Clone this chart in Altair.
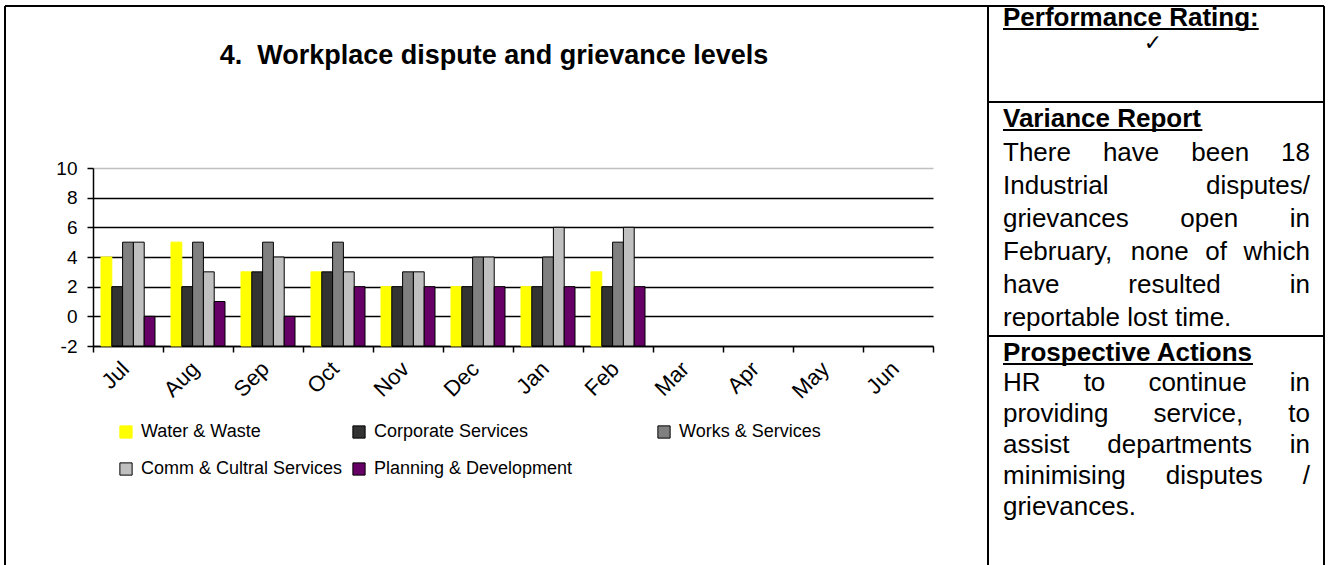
import altair as alt
import pandas as pd

# ---------------- data ----------------
months = ["Jul", "Aug", "Sep", "Oct", "Nov", "Dec", "Jan", "Feb", "Mar", "Apr", "May", "Jun"]
series = ["Water & Waste", "Corporate Services", "Works & Services",
          "Comm & Cultral Services", "Planning & Development"]
water = [4, 5, 3, 3, 2, 2, 2, 3]
corporate = [2, 2, 3, 3, 2, 2, 2, 2]
works = [5, 5, 5, 5, 3, 4, 4, 5]
comm = [5, 3, 4, 3, 3, 4, 6, 6]
planning = [0, 1, 0, 2, 2, 2, 2, 2]
values = [water, corporate, works, comm, planning]
y_ticks = [-2, 0, 2, 4, 6, 8, 10]

fills = ["#FFFF00", "#333333", "#808080", "#C0C0C0", "#660066"]
edges = ["#FFFF00", "#000000", "#000000", "#000000", "#000000"]

title_text = "4. \u00a0Workplace dispute and grievance levels"
rating_title = "Performance Rating:"
rating_mark = "\u2713"
variance_title = "Variance Report"
variance_lines = ["There have been 18", "Industrial disputes/", "grievances open in",
                  "February, none of which", "have resulted in", "reportable lost time."]
actions_title = "Prospective Actions"
actions_lines = ["HR to continue in", "providing service, to", "assist departments in",
                 "minimising disputes /", "grievances."]

FONT = "Liberation Sans"

# ---------------- layout helpers ----------------
W, H = 1330, 565
PX0, PX1 = 93, 933      # plot area x (absolute)
PY0, PY1 = 168, 346     # plot area y (absolute)

REG = {' ': 278, '&': 667, ',': 278, '.': 278, '/': 278, ':': 278, '1': 556, '8': 556,
       'A': 667, 'C': 722, 'D': 722, 'F': 611, 'H': 722, 'I': 278, 'P': 667, 'R': 722,
       'T': 611, 'V': 667, 'a': 556, 'b': 556, 'c': 500, 'd': 556, 'e': 556, 'f': 278,
       'g': 556, 'h': 556, 'i': 222, 'l': 222, 'm': 833, 'n': 556, 'o': 556, 'p': 556,
       'r': 333, 's': 500, 't': 278, 'u': 556, 'v': 500, 'w': 722, 'y': 500}
BOLD = {' ': 278, ':': 333, 'A': 722, 'P': 667, 'R': 722, 'V': 667, 'a': 556, 'c': 556,
        'e': 556, 'f': 333, 'g': 611, 'i': 278, 'm': 889, 'n': 611, 'o': 611, 'p': 611,
        'r': 389, 's': 556, 't': 333, 'v': 556}


def tw(s, size, bold=False):
    tab = BOLD if bold else REG
    return sum(tab.get(c, 556) for c in s) / 1000.0 * size


PL, PR = 1003, 1310
FS = 26


def justify(line, y, last=False):
    words = line.split(" ")
    if last or len(words) == 1:
        return [(PL, y, line)]
    ws = [tw(w, FS) for w in words]
    gap = (PR - PL - sum(ws)) / (len(words) - 1)
    out, x = [], PL
    for w, wd in zip(words, ws):
        out.append((x, y, w))
        x += wd + gap
    return out


words = []
for i, ln in enumerate(variance_lines):
    words += justify(ln, 161 + 33 * i, last=(i == len(variance_lines) - 1))
for i, ln in enumerate(actions_lines):
    words += justify(ln, 391 + 31 * i, last=(i == len(actions_lines) - 1))
words_df = pd.DataFrame([{"x": x - PX0, "y": y - PY0, "t": t} for x, y, t in words])

heads = [(PL, 26, rating_title), (PL, 127, variance_title), (PL, 361, actions_title)]
heads_df = pd.DataFrame([{"x": x - PX0, "y": y - PY0, "t": t} for x, y, t in heads])

lines = [
    (5, 6, 1324, 6), (5, 6, 5, 600), (1324, 6, 1324, 600), (988, 6, 988, 600),
    (988, 102, 1324, 102), (988, 336, 1324, 336),
]
for x, y, t in heads:
    lines.append((x, y + 3, x + tw(t, FS, True), y + 3))
lines_df = pd.DataFrame([{"x": a - PX0, "y": b - PY0, "x2": c - PX0, "y2": d - PY0}
                         for a, b, c, d in lines])

misc_df = pd.DataFrame([{"x": 494 - PX0, "y": 64 - PY0, "t": title_text}])
check_df = pd.DataFrame([{"x": 1153 - PX0, "y": 50 - PY0, "t": rating_mark}])

# legend entry placement (absolute pixels: symbol left edge, entry top)
LEG_X = [117, 350, 655, 117, 350]
LEG_Y = [423, 423, 423, 460, 460]

# ---------------- chart ----------------
x_axis = alt.Axis(title=None, labelAngle=-45, labelAlign="right", labelBaseline="middle",
                  labelFont=FONT, labelFontSize=22, labelColor="black", labelPadding=13,
                  labelOffset=-3,
                  tickBand="extent", tickSize=6, tickColor="black", tickWidth=1.5,
                  domainColor="black", domainWidth=1.5, grid=False)
y_axis = alt.Axis(title=None, values=y_ticks, labelExpr="'' + datum.value",
                  labelFont=FONT, labelFontSize=19,
                  labelColor="black", labelPadding=10, tickSize=6, tickColor="black",
                  tickWidth=1.5, domainColor="black", domainWidth=1.5, grid=True,
                  gridColor={"condition": {"test": "datum.value === 10", "value": "#c0c0c0"},
                             "value": "black"},
                  gridWidth=1.5)

bar_layers = []
for i, (s, vals) in enumerate(zip(series, values)):
    sdf = pd.DataFrame({"month": months[:len(vals)], "series": s, "value": vals})
    leg = alt.Legend(
        title=None, orient="none", legendX=LEG_X[i] - PX0, legendY=LEG_Y[i] - PY0,
        symbolType="square", symbolSize=150, symbolStrokeColor=edges[i], symbolStrokeWidth=1,
        labelFont=FONT, labelFontSize=18, labelColor="black", labelOffset=6, labelLimit=800,
        padding=0,
    )
    bar_layers.append(
        alt.Chart(sdf).mark_bar(stroke=edges[i], strokeWidth=1).encode(
            x=alt.X("month:N", sort=months,
                    scale=alt.Scale(domain=months, paddingInner=0, paddingOuter=0), axis=x_axis),
            xOffset=alt.XOffset("series:N",
                                scale=alt.Scale(domain=series, paddingInner=0, paddingOuter=0.74)),
            y=alt.Y("value:Q", scale=alt.Scale(domain=[-2, 10], nice=False, zero=False), axis=y_axis),
            y2=alt.datum(-2),
            color=alt.Color("series:N", scale=alt.Scale(domain=[s], range=[fills[i]]), legend=leg),
        )
    )
bars = alt.layer(*bar_layers).resolve_scale(color="independent")

px = alt.X("x:Q", scale=None, axis=None)
py = alt.Y("y:Q", scale=None, axis=None)

rules = alt.Chart(lines_df).mark_rule(color="black", strokeWidth=2).encode(
    x=px, y=py, x2="x2:Q", y2="y2:Q")

body = alt.Chart(words_df).mark_text(align="left", baseline="alphabetic", font=FONT,
                                      fontSize=FS, color="black").encode(x=px, y=py, text="t:N")
headers = alt.Chart(heads_df).mark_text(align="left", baseline="alphabetic", font=FONT,
                                         fontSize=FS, fontWeight="bold", color="black").encode(
    x=px, y=py, text="t:N")
title = alt.Chart(misc_df).mark_text(align="center", baseline="alphabetic", font=FONT,
                                      fontSize=27, fontWeight="bold", color="black").encode(
    x=px, y=py, text="t:N")
check = alt.Chart(check_df).mark_text(align="center", baseline="alphabetic", font="DejaVu Sans",
                                       fontSize=22, color="black").encode(x=px, y=py, text="t:N")

chart = alt.layer(bars, rules, body, headers, title, check).resolve_scale(
    x="independent", y="independent"
).properties(
    width=PX1 - PX0, height=PY1 - PY0,
    padding={"left": PX0, "top": PY0, "right": W - PX1, "bottom": H - PY1},
    autosize="none", background="white",
).configure_view(strokeWidth=0)

chart.save("out.html", embed_options={"renderer": "svg", "actions": False})
